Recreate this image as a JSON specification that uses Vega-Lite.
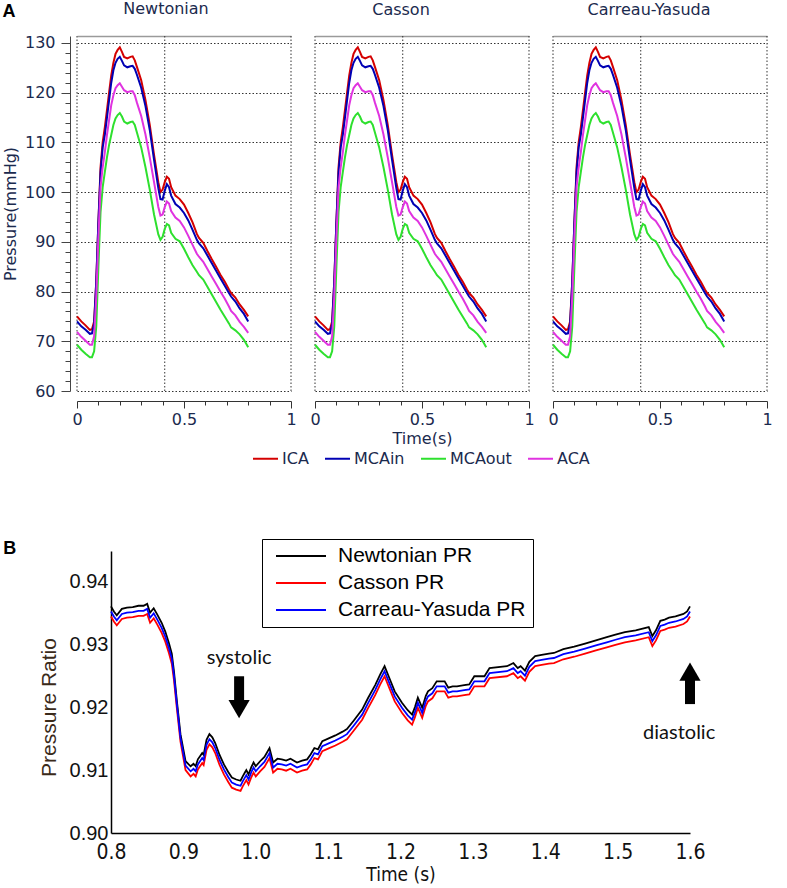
{
  "$schema": "https://vega.github.io/schema/vega-lite/v6.json",
  "background": "white",
  "padding": {"left": 2, "top": 0, "right": 5, "bottom": 5},
  "config": {"view": {"stroke": null}, "font": "DejaVu Sans"},
  "datasets": {
    "gridx": [{"gx": 0}, {"gx": 0.41}, {"gx": 1}],
    "lettersB": [{"label": "B", "t": 0.66, "v": 0.9451}],
    "arrows": [
      {"dir": "down", "t": 0.977, "s1": 0.9249, "s2": 0.9210, "h": 0.91968},
      {"dir": "up", "t": 1.6, "s1": 0.92048, "s2": 0.92444, "h": 0.92563}
    ],
    "notes": [
      {"label": "systolic", "t": 0.977, "v": 0.9278},
      {"label": "diastolic", "t": 1.585, "v": 0.9159}
    ],
    "pa": [
      {"t": 0.00, "ICA": 75.0, "MCAin": 74.0, "MCAout": 69.3, "ACA": 71.9},
      {"t": 0.02, "ICA": 74.0, "MCAin": 73.0, "MCAout": 68.3, "ACA": 70.9},
      {"t": 0.04, "ICA": 73.2, "MCAin": 72.3, "MCAout": 67.5, "ACA": 70.1},
      {"t": 0.06, "ICA": 72.3, "MCAin": 71.5, "MCAout": 66.8, "ACA": 69.3},
      {"t": 0.07, "ICA": 72.4, "MCAin": 71.6, "MCAout": 66.8, "ACA": 69.3},
      {"t": 0.08, "ICA": 74.0, "MCAin": 73.5, "MCAout": 68.0, "ACA": 71.0},
      {"t": 0.09, "ICA": 82.0, "MCAin": 82.0, "MCAout": 73.0, "ACA": 79.0},
      {"t": 0.10, "ICA": 94.0, "MCAin": 94.0, "MCAout": 85.0, "ACA": 91.0},
      {"t": 0.11, "ICA": 105.0, "MCAin": 104.0, "MCAout": 96.0, "ACA": 101.0},
      {"t": 0.12, "ICA": 110.0, "MCAin": 109.0, "MCAout": 101.0, "ACA": 105.0},
      {"t": 0.13, "ICA": 113.0, "MCAin": 111.5, "MCAout": 104.0, "ACA": 108.0},
      {"t": 0.14, "ICA": 116.5, "MCAin": 115.0, "MCAout": 107.0, "ACA": 111.5},
      {"t": 0.15, "ICA": 120.0, "MCAin": 118.5, "MCAout": 109.5, "ACA": 114.5},
      {"t": 0.16, "ICA": 123.5, "MCAin": 122.0, "MCAout": 111.5, "ACA": 117.5},
      {"t": 0.17, "ICA": 126.0, "MCAin": 124.5, "MCAout": 113.5, "ACA": 119.5},
      {"t": 0.18, "ICA": 127.8, "MCAin": 126.0, "MCAout": 114.8, "ACA": 120.9},
      {"t": 0.19, "ICA": 128.6, "MCAin": 126.8, "MCAout": 115.5, "ACA": 121.5},
      {"t": 0.20, "ICA": 129.1, "MCAin": 127.2, "MCAout": 115.9, "ACA": 121.9},
      {"t": 0.21, "ICA": 128.2, "MCAin": 126.4, "MCAout": 115.2, "ACA": 121.2},
      {"t": 0.22, "ICA": 127.2, "MCAin": 125.5, "MCAout": 114.2, "ACA": 120.5},
      {"t": 0.235, "ICA": 126.9, "MCAin": 125.1, "MCAout": 113.8, "ACA": 120.1},
      {"t": 0.25, "ICA": 127.2, "MCAin": 125.3, "MCAout": 114.1, "ACA": 120.3},
      {"t": 0.26, "ICA": 127.3, "MCAin": 125.4, "MCAout": 114.2, "ACA": 120.3},
      {"t": 0.27, "ICA": 126.5, "MCAin": 124.8, "MCAout": 113.5, "ACA": 119.5},
      {"t": 0.28, "ICA": 125.2, "MCAin": 123.6, "MCAout": 112.0, "ACA": 118.0},
      {"t": 0.30, "ICA": 122.5, "MCAin": 121.0, "MCAout": 109.0, "ACA": 115.3},
      {"t": 0.32, "ICA": 118.5, "MCAin": 117.3, "MCAout": 105.0, "ACA": 111.6},
      {"t": 0.34, "ICA": 113.5, "MCAin": 112.5, "MCAout": 100.5, "ACA": 107.0},
      {"t": 0.36, "ICA": 107.5, "MCAin": 106.5, "MCAout": 95.5, "ACA": 102.0},
      {"t": 0.38, "ICA": 102.0, "MCAin": 100.8, "MCAout": 91.5, "ACA": 97.0},
      {"t": 0.39, "ICA": 100.0, "MCAin": 98.6, "MCAout": 90.4, "ACA": 95.3},
      {"t": 0.40, "ICA": 100.5, "MCAin": 98.5, "MCAout": 91.0, "ACA": 95.5},
      {"t": 0.41, "ICA": 102.0, "MCAin": 100.3, "MCAout": 92.6, "ACA": 97.0},
      {"t": 0.42, "ICA": 103.1, "MCAin": 101.6, "MCAout": 93.6, "ACA": 98.1},
      {"t": 0.43, "ICA": 102.7, "MCAin": 101.0, "MCAout": 93.3, "ACA": 97.7},
      {"t": 0.44, "ICA": 101.0, "MCAin": 99.3, "MCAout": 91.8, "ACA": 96.2},
      {"t": 0.46, "ICA": 99.3, "MCAin": 97.6, "MCAout": 90.6, "ACA": 94.9},
      {"t": 0.48, "ICA": 98.6, "MCAin": 96.9, "MCAout": 90.1, "ACA": 94.2},
      {"t": 0.50, "ICA": 97.5, "MCAin": 95.8, "MCAout": 88.6, "ACA": 92.9},
      {"t": 0.52, "ICA": 95.8, "MCAin": 94.3, "MCAout": 86.9, "ACA": 91.2},
      {"t": 0.54, "ICA": 93.9, "MCAin": 92.4, "MCAout": 85.3, "ACA": 89.4},
      {"t": 0.56, "ICA": 91.6, "MCAin": 90.4, "MCAout": 84.0, "ACA": 87.6},
      {"t": 0.57, "ICA": 90.8, "MCAin": 89.7, "MCAout": 83.3, "ACA": 87.0},
      {"t": 0.59, "ICA": 89.8, "MCAin": 88.7, "MCAout": 82.4, "ACA": 86.0},
      {"t": 0.61, "ICA": 88.1, "MCAin": 87.2, "MCAout": 80.9, "ACA": 84.5},
      {"t": 0.63, "ICA": 86.5, "MCAin": 85.7, "MCAout": 79.4, "ACA": 83.0},
      {"t": 0.65, "ICA": 85.0, "MCAin": 84.2, "MCAout": 77.9, "ACA": 81.5},
      {"t": 0.67, "ICA": 83.4, "MCAin": 82.7, "MCAout": 76.4, "ACA": 80.0},
      {"t": 0.69, "ICA": 82.0, "MCAin": 81.2, "MCAout": 75.0, "ACA": 78.6},
      {"t": 0.71, "ICA": 80.4, "MCAin": 79.7, "MCAout": 73.6, "ACA": 77.0},
      {"t": 0.72, "ICA": 79.7, "MCAin": 79.0, "MCAout": 72.8, "ACA": 76.1},
      {"t": 0.74, "ICA": 78.8, "MCAin": 78.0, "MCAout": 72.2, "ACA": 75.2},
      {"t": 0.76, "ICA": 77.4, "MCAin": 76.6, "MCAout": 71.4, "ACA": 73.9},
      {"t": 0.78, "ICA": 76.3, "MCAin": 75.5, "MCAout": 70.3, "ACA": 72.9},
      {"t": 0.80, "ICA": 75.0, "MCAin": 74.0, "MCAout": 68.8, "ACA": 71.7}
    ],
    "pb": [
      {"t": 0.800, "Newtonian PR": 0.9360, "Casson PR": 0.9344, "Carreau-Yasuda PR": 0.9352},
      {"t": 0.804, "Newtonian PR": 0.9352, "Casson PR": 0.9336, "Carreau-Yasuda PR": 0.9344},
      {"t": 0.808, "Newtonian PR": 0.9346, "Casson PR": 0.9330, "Carreau-Yasuda PR": 0.9338},
      {"t": 0.815, "Newtonian PR": 0.9356, "Casson PR": 0.9340, "Carreau-Yasuda PR": 0.9348},
      {"t": 0.822, "Newtonian PR": 0.9358, "Casson PR": 0.9342, "Carreau-Yasuda PR": 0.9350},
      {"t": 0.830, "Newtonian PR": 0.9359, "Casson PR": 0.9343, "Carreau-Yasuda PR": 0.9351},
      {"t": 0.838, "Newtonian PR": 0.9361, "Casson PR": 0.9345, "Carreau-Yasuda PR": 0.9353},
      {"t": 0.845, "Newtonian PR": 0.9361, "Casson PR": 0.9345, "Carreau-Yasuda PR": 0.9353},
      {"t": 0.850, "Newtonian PR": 0.9364, "Casson PR": 0.9348, "Carreau-Yasuda PR": 0.9356},
      {"t": 0.854, "Newtonian PR": 0.9350, "Casson PR": 0.9334, "Carreau-Yasuda PR": 0.9342},
      {"t": 0.859, "Newtonian PR": 0.9357, "Casson PR": 0.9341, "Carreau-Yasuda PR": 0.9349},
      {"t": 0.864, "Newtonian PR": 0.9347, "Casson PR": 0.9331, "Carreau-Yasuda PR": 0.9339},
      {"t": 0.870, "Newtonian PR": 0.9334, "Casson PR": 0.9318, "Carreau-Yasuda PR": 0.9326},
      {"t": 0.875, "Newtonian PR": 0.9320, "Casson PR": 0.9304, "Carreau-Yasuda PR": 0.9312},
      {"t": 0.880, "Newtonian PR": 0.9302, "Casson PR": 0.9286, "Carreau-Yasuda PR": 0.9294},
      {"t": 0.884, "Newtonian PR": 0.9285, "Casson PR": 0.9269, "Carreau-Yasuda PR": 0.9277},
      {"t": 0.887, "Newtonian PR": 0.9257, "Casson PR": 0.9243, "Carreau-Yasuda PR": 0.9250},
      {"t": 0.891, "Newtonian PR": 0.9210, "Casson PR": 0.9198, "Carreau-Yasuda PR": 0.9204},
      {"t": 0.896, "Newtonian PR": 0.9157, "Casson PR": 0.9145, "Carreau-Yasuda PR": 0.9151},
      {"t": 0.903, "Newtonian PR": 0.9114, "Casson PR": 0.9100, "Carreau-Yasuda PR": 0.9107},
      {"t": 0.910, "Newtonian PR": 0.9106, "Casson PR": 0.9090, "Carreau-Yasuda PR": 0.9098},
      {"t": 0.914, "Newtonian PR": 0.9110, "Casson PR": 0.9094, "Carreau-Yasuda PR": 0.9102},
      {"t": 0.917, "Newtonian PR": 0.9106, "Casson PR": 0.9090, "Carreau-Yasuda PR": 0.9098},
      {"t": 0.920, "Newtonian PR": 0.9117, "Casson PR": 0.9101, "Carreau-Yasuda PR": 0.9109},
      {"t": 0.923, "Newtonian PR": 0.9122, "Casson PR": 0.9106, "Carreau-Yasuda PR": 0.9114},
      {"t": 0.926, "Newtonian PR": 0.9127, "Casson PR": 0.9111, "Carreau-Yasuda PR": 0.9119},
      {"t": 0.928, "Newtonian PR": 0.9124, "Casson PR": 0.9108, "Carreau-Yasuda PR": 0.9116},
      {"t": 0.932, "Newtonian PR": 0.9148, "Casson PR": 0.9132, "Carreau-Yasuda PR": 0.9140},
      {"t": 0.936, "Newtonian PR": 0.9157, "Casson PR": 0.9141, "Carreau-Yasuda PR": 0.9149},
      {"t": 0.940, "Newtonian PR": 0.9152, "Casson PR": 0.9136, "Carreau-Yasuda PR": 0.9144},
      {"t": 0.944, "Newtonian PR": 0.9143, "Casson PR": 0.9127, "Carreau-Yasuda PR": 0.9135},
      {"t": 0.950, "Newtonian PR": 0.9124, "Casson PR": 0.9108, "Carreau-Yasuda PR": 0.9116},
      {"t": 0.956, "Newtonian PR": 0.9109, "Casson PR": 0.9093, "Carreau-Yasuda PR": 0.9101},
      {"t": 0.962, "Newtonian PR": 0.9097, "Casson PR": 0.9081, "Carreau-Yasuda PR": 0.9089},
      {"t": 0.967, "Newtonian PR": 0.9088, "Casson PR": 0.9072, "Carreau-Yasuda PR": 0.9080},
      {"t": 0.973, "Newtonian PR": 0.9085, "Casson PR": 0.9069, "Carreau-Yasuda PR": 0.9077},
      {"t": 0.979, "Newtonian PR": 0.9083, "Casson PR": 0.9067, "Carreau-Yasuda PR": 0.9075},
      {"t": 0.982, "Newtonian PR": 0.9090, "Casson PR": 0.9074, "Carreau-Yasuda PR": 0.9082},
      {"t": 0.985, "Newtonian PR": 0.9096, "Casson PR": 0.9080, "Carreau-Yasuda PR": 0.9088},
      {"t": 0.987, "Newtonian PR": 0.9100, "Casson PR": 0.9084, "Carreau-Yasuda PR": 0.9092},
      {"t": 0.990, "Newtonian PR": 0.9093, "Casson PR": 0.9077, "Carreau-Yasuda PR": 0.9085},
      {"t": 0.994, "Newtonian PR": 0.9105, "Casson PR": 0.9089, "Carreau-Yasuda PR": 0.9097},
      {"t": 0.997, "Newtonian PR": 0.9112, "Casson PR": 0.9096, "Carreau-Yasuda PR": 0.9104},
      {"t": 1.000, "Newtonian PR": 0.9106, "Casson PR": 0.9090, "Carreau-Yasuda PR": 0.9098},
      {"t": 1.006, "Newtonian PR": 0.9114, "Casson PR": 0.9098, "Carreau-Yasuda PR": 0.9106},
      {"t": 1.012, "Newtonian PR": 0.9121, "Casson PR": 0.9105, "Carreau-Yasuda PR": 0.9113},
      {"t": 1.019, "Newtonian PR": 0.9135, "Casson PR": 0.9119, "Carreau-Yasuda PR": 0.9127},
      {"t": 1.024, "Newtonian PR": 0.9112, "Casson PR": 0.9096, "Carreau-Yasuda PR": 0.9104},
      {"t": 1.030, "Newtonian PR": 0.9118, "Casson PR": 0.9102, "Carreau-Yasuda PR": 0.9110},
      {"t": 1.036, "Newtonian PR": 0.9117, "Casson PR": 0.9101, "Carreau-Yasuda PR": 0.9109},
      {"t": 1.042, "Newtonian PR": 0.9115, "Casson PR": 0.9099, "Carreau-Yasuda PR": 0.9107},
      {"t": 1.048, "Newtonian PR": 0.9118, "Casson PR": 0.9102, "Carreau-Yasuda PR": 0.9110},
      {"t": 1.057, "Newtonian PR": 0.9112, "Casson PR": 0.9096, "Carreau-Yasuda PR": 0.9104},
      {"t": 1.064, "Newtonian PR": 0.9115, "Casson PR": 0.9099, "Carreau-Yasuda PR": 0.9107},
      {"t": 1.071, "Newtonian PR": 0.9117, "Casson PR": 0.9101, "Carreau-Yasuda PR": 0.9109},
      {"t": 1.076, "Newtonian PR": 0.9125, "Casson PR": 0.9109, "Carreau-Yasuda PR": 0.9117},
      {"t": 1.081, "Newtonian PR": 0.9135, "Casson PR": 0.9119, "Carreau-Yasuda PR": 0.9127},
      {"t": 1.086, "Newtonian PR": 0.9133, "Casson PR": 0.9117, "Carreau-Yasuda PR": 0.9125},
      {"t": 1.092, "Newtonian PR": 0.9146, "Casson PR": 0.9130, "Carreau-Yasuda PR": 0.9138},
      {"t": 1.100, "Newtonian PR": 0.9150, "Casson PR": 0.9134, "Carreau-Yasuda PR": 0.9142},
      {"t": 1.110, "Newtonian PR": 0.9155, "Casson PR": 0.9139, "Carreau-Yasuda PR": 0.9147},
      {"t": 1.120, "Newtonian PR": 0.9161, "Casson PR": 0.9145, "Carreau-Yasuda PR": 0.9153},
      {"t": 1.126, "Newtonian PR": 0.9165, "Casson PR": 0.9149, "Carreau-Yasuda PR": 0.9157},
      {"t": 1.135, "Newtonian PR": 0.9178, "Casson PR": 0.9162, "Carreau-Yasuda PR": 0.9170},
      {"t": 1.147, "Newtonian PR": 0.9196, "Casson PR": 0.9180, "Carreau-Yasuda PR": 0.9188},
      {"t": 1.155, "Newtonian PR": 0.9214, "Casson PR": 0.9198, "Carreau-Yasuda PR": 0.9206},
      {"t": 1.165, "Newtonian PR": 0.9235, "Casson PR": 0.9219, "Carreau-Yasuda PR": 0.9227},
      {"t": 1.172, "Newtonian PR": 0.9252, "Casson PR": 0.9236, "Carreau-Yasuda PR": 0.9244},
      {"t": 1.178, "Newtonian PR": 0.9265, "Casson PR": 0.9249, "Carreau-Yasuda PR": 0.9257},
      {"t": 1.185, "Newtonian PR": 0.9245, "Casson PR": 0.9229, "Carreau-Yasuda PR": 0.9237},
      {"t": 1.192, "Newtonian PR": 0.9225, "Casson PR": 0.9209, "Carreau-Yasuda PR": 0.9217},
      {"t": 1.202, "Newtonian PR": 0.9207, "Casson PR": 0.9191, "Carreau-Yasuda PR": 0.9199},
      {"t": 1.210, "Newtonian PR": 0.9195, "Casson PR": 0.9179, "Carreau-Yasuda PR": 0.9187},
      {"t": 1.216, "Newtonian PR": 0.9188, "Casson PR": 0.9172, "Carreau-Yasuda PR": 0.9180},
      {"t": 1.220, "Newtonian PR": 0.9200, "Casson PR": 0.9184, "Carreau-Yasuda PR": 0.9192},
      {"t": 1.224, "Newtonian PR": 0.9215, "Casson PR": 0.9199, "Carreau-Yasuda PR": 0.9207},
      {"t": 1.230, "Newtonian PR": 0.9199, "Casson PR": 0.9183, "Carreau-Yasuda PR": 0.9191},
      {"t": 1.235, "Newtonian PR": 0.9218, "Casson PR": 0.9202, "Carreau-Yasuda PR": 0.9210},
      {"t": 1.238, "Newtonian PR": 0.9225, "Casson PR": 0.9209, "Carreau-Yasuda PR": 0.9217},
      {"t": 1.244, "Newtonian PR": 0.9230, "Casson PR": 0.9214, "Carreau-Yasuda PR": 0.9222},
      {"t": 1.250, "Newtonian PR": 0.9241, "Casson PR": 0.9225, "Carreau-Yasuda PR": 0.9233},
      {"t": 1.261, "Newtonian PR": 0.9241, "Casson PR": 0.9225, "Carreau-Yasuda PR": 0.9233},
      {"t": 1.266, "Newtonian PR": 0.9231, "Casson PR": 0.9215, "Carreau-Yasuda PR": 0.9223},
      {"t": 1.272, "Newtonian PR": 0.9233, "Casson PR": 0.9217, "Carreau-Yasuda PR": 0.9225},
      {"t": 1.278, "Newtonian PR": 0.9233, "Casson PR": 0.9217, "Carreau-Yasuda PR": 0.9225},
      {"t": 1.288, "Newtonian PR": 0.9235, "Casson PR": 0.9219, "Carreau-Yasuda PR": 0.9227},
      {"t": 1.295, "Newtonian PR": 0.9236, "Casson PR": 0.9220, "Carreau-Yasuda PR": 0.9228},
      {"t": 1.302, "Newtonian PR": 0.9249, "Casson PR": 0.9233, "Carreau-Yasuda PR": 0.9241},
      {"t": 1.316, "Newtonian PR": 0.9249, "Casson PR": 0.9233, "Carreau-Yasuda PR": 0.9241},
      {"t": 1.323, "Newtonian PR": 0.9262, "Casson PR": 0.9246, "Carreau-Yasuda PR": 0.9254},
      {"t": 1.347, "Newtonian PR": 0.9265, "Casson PR": 0.9249, "Carreau-Yasuda PR": 0.9257},
      {"t": 1.356, "Newtonian PR": 0.9270, "Casson PR": 0.9254, "Carreau-Yasuda PR": 0.9262},
      {"t": 1.362, "Newtonian PR": 0.9262, "Casson PR": 0.9246, "Carreau-Yasuda PR": 0.9254},
      {"t": 1.366, "Newtonian PR": 0.9265, "Casson PR": 0.9249, "Carreau-Yasuda PR": 0.9257},
      {"t": 1.372, "Newtonian PR": 0.9258, "Casson PR": 0.9242, "Carreau-Yasuda PR": 0.9250},
      {"t": 1.378, "Newtonian PR": 0.9272, "Casson PR": 0.9256, "Carreau-Yasuda PR": 0.9264},
      {"t": 1.386, "Newtonian PR": 0.9281, "Casson PR": 0.9265, "Carreau-Yasuda PR": 0.9273},
      {"t": 1.395, "Newtonian PR": 0.9283, "Casson PR": 0.9267, "Carreau-Yasuda PR": 0.9275},
      {"t": 1.405, "Newtonian PR": 0.9285, "Casson PR": 0.9269, "Carreau-Yasuda PR": 0.9277},
      {"t": 1.412, "Newtonian PR": 0.9286, "Casson PR": 0.9270, "Carreau-Yasuda PR": 0.9278},
      {"t": 1.425, "Newtonian PR": 0.9292, "Casson PR": 0.9276, "Carreau-Yasuda PR": 0.9284},
      {"t": 1.440, "Newtonian PR": 0.9296, "Casson PR": 0.9280, "Carreau-Yasuda PR": 0.9288},
      {"t": 1.455, "Newtonian PR": 0.9301, "Casson PR": 0.9285, "Carreau-Yasuda PR": 0.9293},
      {"t": 1.470, "Newtonian PR": 0.9306, "Casson PR": 0.9290, "Carreau-Yasuda PR": 0.9298},
      {"t": 1.485, "Newtonian PR": 0.9311, "Casson PR": 0.9295, "Carreau-Yasuda PR": 0.9303},
      {"t": 1.497, "Newtonian PR": 0.9315, "Casson PR": 0.9299, "Carreau-Yasuda PR": 0.9307},
      {"t": 1.510, "Newtonian PR": 0.9319, "Casson PR": 0.9303, "Carreau-Yasuda PR": 0.9311},
      {"t": 1.525, "Newtonian PR": 0.9322, "Casson PR": 0.9306, "Carreau-Yasuda PR": 0.9314},
      {"t": 1.543, "Newtonian PR": 0.9327, "Casson PR": 0.9311, "Carreau-Yasuda PR": 0.9319},
      {"t": 1.548, "Newtonian PR": 0.9313, "Casson PR": 0.9297, "Carreau-Yasuda PR": 0.9305},
      {"t": 1.553, "Newtonian PR": 0.9322, "Casson PR": 0.9306, "Carreau-Yasuda PR": 0.9314},
      {"t": 1.559, "Newtonian PR": 0.9337, "Casson PR": 0.9321, "Carreau-Yasuda PR": 0.9329},
      {"t": 1.565, "Newtonian PR": 0.9339, "Casson PR": 0.9323, "Carreau-Yasuda PR": 0.9331},
      {"t": 1.571, "Newtonian PR": 0.9342, "Casson PR": 0.9326, "Carreau-Yasuda PR": 0.9334},
      {"t": 1.580, "Newtonian PR": 0.9344, "Casson PR": 0.9328, "Carreau-Yasuda PR": 0.9336},
      {"t": 1.591, "Newtonian PR": 0.9348, "Casson PR": 0.9332, "Carreau-Yasuda PR": 0.9340},
      {"t": 1.596, "Newtonian PR": 0.9352, "Casson PR": 0.9336, "Carreau-Yasuda PR": 0.9344},
      {"t": 1.600, "Newtonian PR": 0.9360, "Casson PR": 0.9344, "Carreau-Yasuda PR": 0.9352}
    ]
  },
  "concat": [
    {
      "title": {"text": "A", "anchor": "start", "frame": "bounds", "font": "Liberation Sans", "fontSize": 18, "fontWeight": "bold", "color": "#000", "offset": 0, "dy": 20},
      "hconcat": [
        {
          "width": 214, "height": 355,
          "title": {"text": "Newtonian", "frame": "group", "dx": -18, "font": "DejaVu Sans", "fontSize": 16, "fontWeight": "normal", "color": "#1b2a4e", "offset": 18},
          "layer": [
            {
              "data": {"name": "gridx"},
              "mark": {"type": "rule", "color": "#333", "strokeDash": [1.5, 2], "strokeWidth": 1},
              "encoding": {
                "x": {"field": "gx", "type": "quantitative", "scale": {"domain": [0, 1]}}
              }
            },
            {
              "data": {"name": "pa"},
              "transform": [{"fold": ["ICA", "MCAin", "MCAout", "ACA"], "as": ["vessel", "pressure"]}],
              "mark": {"type": "line", "strokeWidth": 2},
              "encoding": {
                "x": {"field": "t", "type": "quantitative", "scale": {"domain": [0, 1]},
                  "axis": {"orient": "bottom", "values": [0, 0.1, 0.2, 0.3, 0.4, 0.5, 0.6, 0.7, 0.8, 0.9, 1], "tickCount": 100, "offset": 10, "grid": false,
                    "domainColor": "#333", "tickColor": "#333",
                    "tickSize": {"condition": {"test": "datum.value === 0 || datum.value === 0.5 || datum.value === 1", "value": 7}, "value": 4},
                    "labelExpr": "datum.value === 0 || datum.value === 0.5 || datum.value === 1 ? format(datum.value, '~g') : ''",
                    "labelFlush": false, "labelOverlap": false, "labelFont": "DejaVu Sans", "labelFontSize": 16, "labelColor": "#1b2a4e", "labelPadding": 3, "title": null}},
                "y": {"field": "pressure", "type": "quantitative", "scale": {"domain": [60, 131.4]},
                  "axis": {"values": [60, 62, 64, 66, 68, 70, 72, 74, 76, 78, 80, 82, 84, 86, 88, 90, 92, 94, 96, 98, 100, 102, 104, 106, 108, 110, 112, 114, 116, 118, 120, 122, 124, 126, 128, 130, 131.4],
                    "tickCount": 100,
                    "offset": 7, "domainColor": "#444", "tickColor": "#444",
                    "tickSize": {"condition": {"test": "datum.value % 10 === 0", "value": 9}, "value": 5},
                    "tickOpacity": {"condition": {"test": "datum.value > 131", "value": 0}, "value": 1},
                    "labelExpr": "datum.value % 10 === 0 ? datum.label : ''",
                    "labelFontSize": {"condition": {"test": "datum.value % 10 === 0", "value": 16}, "value": 0},
                    "labelOverlap": false,
                    "grid": true,
                    "gridDash": {"condition": {"test": "datum.value > 131", "value": []}, "value": [1.5, 2]},
                    "gridColor": {"condition": {"test": "datum.value > 131", "value": "#9a9a9a"}, "value": "#333"},
                    "gridWidth": {"condition": {"test": "datum.value > 131", "value": 1.5}, "value": 1},
                    "gridOpacity": {"condition": {"test": "datum.value % 10 === 0 || datum.value > 131", "value": 1}, "value": 0},
                    "labelFont": "DejaVu Sans", "labelColor": "#1b2a4e", "labelPadding": 6,
                    "title": "Pressure(mmHg)", "titleFont": "DejaVu Sans", "titleFontSize": 16, "titleFontWeight": "normal", "titleColor": "#1b2a4e", "titlePadding": 6}},
                "color": {"field": "vessel", "type": "nominal",
                  "scale": {"domain": ["ICA", "MCAin", "MCAout", "ACA"], "range": ["#d40000", "#0000b4", "#2ee02e", "#e033e0"]},
                  "legend": {"orient": "none", "legendX": 175, "legendY": 409, "direction": "horizontal", "title": null, "symbolType": "stroke", "symbolSize": 625, "symbolStrokeWidth": 2, "labelFont": "DejaVu Sans", "labelFontSize": 16, "labelColor": "#1b2a4e", "labelOffset": 3, "columnPadding": 12}}
              }
            }
          ]
        },
        {
          "width": 214, "height": 355,
          "title": {"text": "Casson", "frame": "group", "dx": -21, "font": "DejaVu Sans", "fontSize": 16, "fontWeight": "normal", "color": "#1b2a4e", "offset": 18},
          "layer": [
            {
              "data": {"name": "gridx"},
              "mark": {"type": "rule", "color": "#333", "strokeDash": [1.5, 2], "strokeWidth": 1},
              "encoding": {
                "x": {"field": "gx", "type": "quantitative", "scale": {"domain": [0, 1]}}
              }
            },
            {
              "data": {"name": "pa"},
              "transform": [{"fold": ["ICA", "MCAin", "MCAout", "ACA"], "as": ["vessel", "pressure"]}],
              "mark": {"type": "line", "strokeWidth": 2},
              "encoding": {
                "x": {"field": "t", "type": "quantitative", "scale": {"domain": [0, 1]},
                  "axis": {"orient": "bottom", "values": [0, 0.1, 0.2, 0.3, 0.4, 0.5, 0.6, 0.7, 0.8, 0.9, 1], "tickCount": 100, "offset": 10, "grid": false,
                    "domainColor": "#333", "tickColor": "#333",
                    "tickSize": {"condition": {"test": "datum.value === 0 || datum.value === 0.5 || datum.value === 1", "value": 7}, "value": 4},
                    "labelExpr": "datum.value === 0 || datum.value === 0.5 || datum.value === 1 ? format(datum.value, '~g') : ''",
                    "labelFlush": false, "labelOverlap": false, "labelFont": "DejaVu Sans", "labelFontSize": 16, "labelColor": "#1b2a4e", "labelPadding": 3,
                    "title": "Time(s)", "titleFont": "DejaVu Sans", "titleFontSize": 16, "titleFontWeight": "normal", "titleColor": "#1b2a4e", "titlePadding": 3}},
                "y": {"field": "pressure", "type": "quantitative", "scale": {"domain": [60, 131.4]},
                  "axis": {"values": [60, 70, 80, 90, 100, 110, 120, 130, 131.4], "tickCount": 100, "labels": false, "ticks": false, "domain": false, "title": null,
                    "grid": true,
                    "gridDash": {"condition": {"test": "datum.value > 131", "value": []}, "value": [1.5, 2]},
                    "gridColor": {"condition": {"test": "datum.value > 131", "value": "#9a9a9a"}, "value": "#333"},
                    "gridWidth": {"condition": {"test": "datum.value > 131", "value": 1.5}, "value": 1}}},
                "color": {"field": "vessel", "type": "nominal",
                  "scale": {"domain": ["ICA", "MCAin", "MCAout", "ACA"], "range": ["#d40000", "#0000b4", "#2ee02e", "#e033e0"]},
                  "legend": {"orient": "none", "legendX": 175, "legendY": 409, "direction": "horizontal", "title": null, "symbolType": "stroke", "symbolSize": 625, "symbolStrokeWidth": 2, "labelFont": "DejaVu Sans", "labelFontSize": 16, "labelColor": "#1b2a4e", "labelOffset": 3, "columnPadding": 12}}
              }
            }
          ]
        },
        {
          "width": 214, "height": 355,
          "title": {"text": "Carreau-Yasuda", "frame": "group", "dx": -11, "font": "DejaVu Sans", "fontSize": 16, "fontWeight": "normal", "color": "#1b2a4e", "offset": 18},
          "layer": [
            {
              "data": {"name": "gridx"},
              "mark": {"type": "rule", "color": "#333", "strokeDash": [1.5, 2], "strokeWidth": 1},
              "encoding": {
                "x": {"field": "gx", "type": "quantitative", "scale": {"domain": [0, 1]}}
              }
            },
            {
              "data": {"name": "pa"},
              "transform": [{"fold": ["ICA", "MCAin", "MCAout", "ACA"], "as": ["vessel", "pressure"]}],
              "mark": {"type": "line", "strokeWidth": 2},
              "encoding": {
                "x": {"field": "t", "type": "quantitative", "scale": {"domain": [0, 1]},
                  "axis": {"orient": "bottom", "values": [0, 0.1, 0.2, 0.3, 0.4, 0.5, 0.6, 0.7, 0.8, 0.9, 1], "tickCount": 100, "offset": 10, "grid": false,
                    "domainColor": "#333", "tickColor": "#333",
                    "tickSize": {"condition": {"test": "datum.value === 0 || datum.value === 0.5 || datum.value === 1", "value": 7}, "value": 4},
                    "labelExpr": "datum.value === 0 || datum.value === 0.5 || datum.value === 1 ? format(datum.value, '~g') : ''",
                    "labelFlush": false, "labelOverlap": false, "labelFont": "DejaVu Sans", "labelFontSize": 16, "labelColor": "#1b2a4e", "labelPadding": 3, "title": null}},
                "y": {"field": "pressure", "type": "quantitative", "scale": {"domain": [60, 131.4]},
                  "axis": {"values": [60, 70, 80, 90, 100, 110, 120, 130, 131.4], "tickCount": 100, "labels": false, "ticks": false, "domain": false, "title": null,
                    "grid": true,
                    "gridDash": {"condition": {"test": "datum.value > 131", "value": []}, "value": [1.5, 2]},
                    "gridColor": {"condition": {"test": "datum.value > 131", "value": "#9a9a9a"}, "value": "#333"},
                    "gridWidth": {"condition": {"test": "datum.value > 131", "value": 1.5}, "value": 1}}},
                "color": {"field": "vessel", "type": "nominal",
                  "scale": {"domain": ["ICA", "MCAin", "MCAout", "ACA"], "range": ["#d40000", "#0000b4", "#2ee02e", "#e033e0"]},
                  "legend": {"orient": "none", "legendX": 175, "legendY": 409, "direction": "horizontal", "title": null, "symbolType": "stroke", "symbolSize": 625, "symbolStrokeWidth": 2, "labelFont": "DejaVu Sans", "labelFontSize": 16, "labelColor": "#1b2a4e", "labelOffset": 3, "columnPadding": 12}}
              }
            }
          ]
        }
      ],
      "spacing": 24,
      "bounds": "flush"
    },
    {
      "hconcat": [
        {"width": 1, "height": 1, "data": {"values": []}, "mark": "point"},
        {
          "width": 579, "height": 282,
          "layer": [
            {
              "data": {"name": "pb"},
              "transform": [{"fold": ["Newtonian PR", "Casson PR", "Carreau-Yasuda PR"], "as": ["model", "ratio"]}],
              "mark": {"type": "line", "strokeWidth": 1.8},
              "encoding": {
                "x": {"field": "t", "type": "quantitative", "scale": {"domain": [0.8, 1.6]},
                  "axis": {"values": [0.8, 0.9, 1.0, 1.1, 1.2, 1.3, 1.4, 1.5, 1.6], "tickCount": 100, "format": ".1f", "ticks": false, "grid": false,
                    "domainColor": "#000", "domainWidth": 1.5, "labelFlush": false,
                    "labelFont": "'Liberation Sans Narrow', 'DejaVu Sans Condensed', sans-serif", "labelFontSize": 21, "labelColor": "#111", "labelPadding": 8,
                    "title": "Time (s)", "titleFont": "'Liberation Sans Narrow', 'DejaVu Sans Condensed', sans-serif", "titleFontSize": 19, "titleFontWeight": "normal", "titleColor": "#111", "titlePadding": 3}},
                "y": {"field": "ratio", "type": "quantitative", "scale": {"domain": [0.9, 0.9448]},
                  "axis": {"values": [0.9, 0.91, 0.92, 0.93, 0.94], "tickCount": 100, "format": ".2f", "ticks": false, "grid": false,
                    "domainColor": "#000", "domainWidth": 1.5,
                    "labelFont": "Liberation Sans", "labelFontSize": 20, "labelColor": "#111", "labelPadding": 3,
                    "title": "Pressure Ratio", "titleFont": "Liberation Sans", "titleFontSize": 21, "titleFontWeight": "normal", "titleColor": "#3a2a1a", "titlePadding": 10, "titleY": 156}},
                "color": {"field": "model", "type": "nominal",
                  "scale": {"domain": ["Newtonian PR", "Casson PR", "Carreau-Yasuda PR"], "range": ["#000000", "#ff0000", "#0000ff"]},
                  "legend": {"orient": "none", "legendX": 151, "legendY": -12, "direction": "vertical", "title": null,
                    "symbolType": "stroke", "symbolSize": 2500, "symbolStrokeWidth": 2, "symbolOffset": 6, "labelOffset": 11,
                    "clipHeight": 20, "labelLimit": 400,
                    "labelFont": "Liberation Sans", "labelFontSize": 21, "labelColor": "#000", "rowPadding": 6,
                    "strokeColor": "#000", "fillColor": "#fff", "padding": 7}}
              }
            },
            {
              "data": {"name": "arrows"},
              "mark": {"type": "rule", "strokeWidth": 10, "color": "#000"},
              "encoding": {
                "x": {"field": "t", "type": "quantitative", "scale": {"domain": [0.8, 1.6]}},
                "y": {"field": "s1", "type": "quantitative", "scale": {"domain": [0.9, 0.9448]}},
                "y2": {"field": "s2"}
              }
            },
            {
              "data": {"name": "arrows"},
              "mark": {"type": "point", "filled": true, "size": 450, "color": "#000", "opacity": 1},
              "encoding": {
                "x": {"field": "t", "type": "quantitative", "scale": {"domain": [0.8, 1.6]}},
                "y": {"field": "h", "type": "quantitative", "scale": {"domain": [0.9, 0.9448]}},
                "shape": {"field": "dir", "type": "nominal", "scale": {"domain": ["down", "up"], "range": ["triangle-down", "triangle-up"]}, "legend": null}
              }
            },
            {
              "data": {"name": "notes"},
              "mark": {"type": "text", "font": "Lato", "fontSize": 20, "color": "#111"},
              "encoding": {
                "x": {"field": "t", "type": "quantitative", "scale": {"domain": [0.8, 1.6]}},
                "y": {"field": "v", "type": "quantitative", "scale": {"domain": [0.9, 0.9448]}},
                "text": {"field": "label"}
              }
            },
            {
              "data": {"name": "lettersB"},
              "mark": {"type": "text", "font": "Liberation Sans", "fontSize": 18, "fontWeight": "bold", "color": "#000"},
              "encoding": {
                "x": {"field": "t", "type": "quantitative", "scale": {"domain": [0.8, 1.6]}},
                "y": {"field": "v", "type": "quantitative", "scale": {"domain": [0.9, 0.9448]}},
                "text": {"field": "label"}
              }
            }
          ]
        }
      ],
      "spacing": 33,
      "bounds": "flush",
      "resolve": {"scale": {"color": "independent", "shape": "independent"}, "legend": {"color": "independent"}}
    }
  ],
  "columns": 1,
  "spacing": 71,
  "resolve": {"scale": {"color": "independent", "shape": "independent"}, "legend": {"color": "independent"}}
}
